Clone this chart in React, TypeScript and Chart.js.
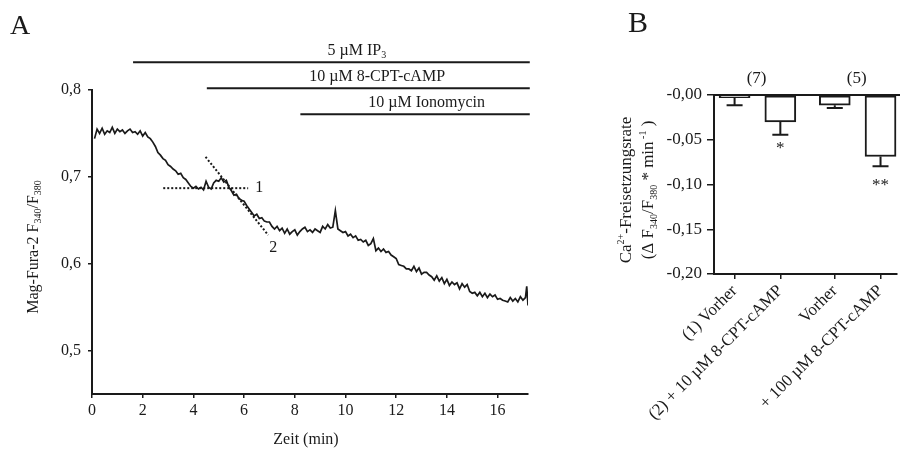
import React, { useEffect, useRef } from 'react';
import { Chart, registerables } from 'chart.js';
Chart.register(...registerables);

const FONT = '"Liberation Serif", "Times New Roman", serif';
const INK = '#1a1a1a';

// ---------- Panel A data ----------
const traceTime = [
  0.1,0.2,0.3,0.4,0.5,0.6,0.7,0.8,0.9,1.0,1.1,1.2,1.3,1.4,1.5,1.6,1.7,1.8,1.9,2.0,
  2.1,2.2,2.3,2.4,2.5,2.6,2.7,2.8,2.9,3.0,3.1,3.2,3.3,3.4,3.5,3.6,3.7,3.8,3.9,4.0,
  4.1,4.2,4.3,4.4,4.5,4.6,4.7,4.8,4.9,5.0,5.1,5.2,5.3,5.4,5.5,5.6,5.7,5.8,5.9,6.0,
  6.1,6.2,6.3,6.4,6.5,6.6,6.7,6.8,6.9,7.0,7.1,7.2,7.3,7.4,7.5,7.6,7.7,7.8,7.9,8.0,
  8.1,8.2,8.3,8.4,8.5,8.6,8.7,8.8,8.9,9.0,9.1,9.2,9.3,9.4,9.5,9.6,9.7,9.8,9.9,10.0,
  10.1,10.2,10.3,10.4,10.5,10.6,10.7,10.8,10.9,11.0,11.1,11.2,11.3,11.4,11.5,11.6,11.7,11.8,11.9,12.0,
  12.1,12.2,12.3,12.4,12.5,12.6,12.7,12.8,12.9,13.0,13.1,13.2,13.3,13.4,13.5,13.6,13.7,13.8,13.9,14.0,
  14.1,14.2,14.3,14.4,14.5,14.6,14.7,14.8,14.9,15.0,15.1,15.2,15.3,15.4,15.5,15.6,15.7,15.8,15.9,16.0,
  16.1,16.2,16.3,16.4,16.5,16.6,16.7,16.8,16.9,17.0,17.1,17.15,17.2
];
const traceRatio = [
  0.744,0.755,0.750,0.756,0.749,0.753,0.751,0.757,0.750,0.755,0.752,0.754,0.750,0.753,0.755,0.751,0.752,0.749,0.753,0.747,
  0.751,0.746,0.744,0.740,0.735,0.728,0.725,0.721,0.719,0.714,0.712,0.709,0.707,0.703,0.704,0.699,0.697,0.693,0.689,0.687,
  0.689,0.686,0.688,0.685,0.695,0.688,0.686,0.693,0.696,0.695,0.699,0.694,0.696,0.688,0.684,0.679,0.680,0.675,0.673,0.672,
  0.667,0.663,0.659,0.655,0.657,0.652,0.653,0.649,0.648,0.648,0.643,0.640,0.643,0.638,0.641,0.635,0.640,0.634,0.637,0.639,
  0.633,0.637,0.640,0.642,0.637,0.639,0.636,0.640,0.638,0.636,0.643,0.640,0.645,0.641,0.642,0.661,0.640,0.638,0.636,0.637,
  0.632,0.634,0.630,0.632,0.627,0.628,0.625,0.627,0.621,0.623,0.629,0.615,0.618,0.614,0.617,0.613,0.614,0.610,0.608,0.606,
  0.599,0.598,0.597,0.594,0.594,0.592,0.597,0.591,0.595,0.588,0.590,0.590,0.587,0.585,0.581,0.586,0.580,0.584,0.577,0.582,
  0.575,0.579,0.576,0.578,0.571,0.577,0.573,0.576,0.568,0.566,0.567,0.563,0.567,0.562,0.566,0.561,0.565,0.562,0.564,0.559,
  0.560,0.558,0.557,0.556,0.561,0.557,0.560,0.556,0.562,0.558,0.561,0.574,0.552
];
const xTicksA = [0, 2, 4, 6, 8, 10, 12, 14, 16];
const yTicksA = [0.5, 0.6, 0.7, 0.8];

const treatNames = ['5 µM IP|3', '10 µM 8-CPT-cAMP', '10 µM Ionomycin'];
const treatStart = [1.62, 4.53, 8.22];
const treatEnd = 17.27;
const treatLevel = [0.832, 0.802, 0.772];
const treatTextCenter = [10.45, 11.25, 13.2];

const fit1 = [{ x: 2.81, y: 0.687 }, { x: 6.16, y: 0.687 }];
const fit2 = [{ x: 4.48, y: 0.723 }, { x: 6.95, y: 0.633 }];

// ---------- Panel B data ----------
const barLabels = ['(1) Vorher', '(2) + 10 µM 8-CPT-cAMP', 'Vorher', '+ 100 µM 8-CPT-cAMP'];
const barPos = [0.45, 1.45, 2.64, 3.64];
const barMean = [-0.003, -0.030, -0.0115, -0.0687];
const barErr = [0.0085, 0.0145, 0.003, 0.011];
const barSig = ['', '*', '', '**'];
const groupN = ['(7)', '(5)'];
const groupPos = [0.93, 3.12];
const yTicksB = [0, -0.05, -0.1, -0.15, -0.2];

type Seg = [string, 'n' | 'sub' | 'sup'];

function drawRich(ctx: CanvasRenderingContext2D, segs: Seg[], x: number, y: number, size: number, rot = 0) {
  ctx.save();
  ctx.translate(x, y);
  ctx.rotate(rot);
  ctx.fillStyle = INK;
  ctx.textBaseline = 'alphabetic';
  ctx.textAlign = 'left';
  const small = Math.round(size * 0.6);
  let total = 0;
  const widths = segs.map(([t, k]) => {
    ctx.font = `${k === 'n' ? size : small}px ${FONT}`;
    const w = ctx.measureText(t).width;
    total += w;
    return w;
  });
  let cx = -total / 2;
  const base = size * 0.35;
  segs.forEach(([t, k], i) => {
    ctx.font = `${k === 'n' ? size : small}px ${FONT}`;
    const dy = k === 'sub' ? size * 0.22 : k === 'sup' ? -size * 0.42 : 0;
    ctx.fillText(t, cx, base + dy);
    cx += widths[i];
  });
  ctx.restore();
}

const annotA = {
  id: 'annotA',
  afterDraw(chart: any) {
    const ctx = chart.ctx as CanvasRenderingContext2D;
    const xs = chart.scales.x;
    const ys = chart.scales.y;
    ctx.save();
    ctx.fillStyle = INK;
    ctx.font = `28px ${FONT}`;
    ctx.textBaseline = 'alphabetic';
    ctx.fillText('A', 10, 34);
    treatNames.forEach((name, i) => {
      const parts = name.split('|');
      const segs: Seg[] = parts.length > 1 ? [[parts[0], 'n'], [parts[1], 'sub']] : [[name, 'n']];
      drawRich(ctx, segs, xs.getPixelForValue(treatTextCenter[i]), ys.getPixelForValue(treatLevel[i]) - 13, 16);
    });
    ctx.font = `16px ${FONT}`;
    ctx.textAlign = 'left';
    ctx.textBaseline = 'middle';
    ctx.fillText('1', xs.getPixelForValue(fit1[1].x) + 7, ys.getPixelForValue(fit1[1].y));
    ctx.fillText('2', xs.getPixelForValue(fit2[1].x) + 1, ys.getPixelForValue(fit2[1].y) + 13);
    ctx.textAlign = 'center';
    ctx.fillText('Zeit (min)', (chart.chartArea.left + chart.chartArea.right) / 2 - 4, 440);
    ctx.restore();
    drawRich(ctx, [['Mag-Fura-2 F', 'n'], ['340', 'sub'], ['/F', 'n'], ['380', 'sub']], 32, 247, 16, -Math.PI / 2);
  },
};

const annotB = {
  id: 'annotB',
  afterDatasetsDraw(chart: any) {
    const ctx = chart.ctx as CanvasRenderingContext2D;
    const xs = chart.scales.x;
    const ys = chart.scales.y;
    const ca = chart.chartArea;
    ctx.save();
    ctx.strokeStyle = INK;
    ctx.lineWidth = 2;
    const y0 = ys.getPixelForValue(0);
    ctx.beginPath();
    ctx.moveTo(ca.left, y0);
    ctx.lineTo(ca.right + 3, y0);
    ctx.stroke();
    barPos.forEach((p, i) => {
      const x = xs.getPixelForValue(p);
      const y1 = ys.getPixelForValue(barMean[i]);
      const y2 = ys.getPixelForValue(barMean[i] - barErr[i]);
      ctx.beginPath();
      ctx.moveTo(x, y1);
      ctx.lineTo(x, y2);
      ctx.moveTo(x - 8, y2);
      ctx.lineTo(x + 8, y2);
      ctx.stroke();
      if (barSig[i]) {
        ctx.fillStyle = INK;
        ctx.font = `17px ${FONT}`;
        ctx.textAlign = 'center';
        ctx.textBaseline = 'middle';
        ctx.fillText(barSig[i], x, y2 + (barSig[i].length > 1 ? 19 : 14));
      }
    });
    ctx.fillStyle = INK;
    ctx.font = `17px ${FONT}`;
    ctx.textAlign = 'center';
    ctx.textBaseline = 'middle';
    groupN.forEach((t, i) => ctx.fillText(t, xs.getPixelForValue(groupPos[i]), y0 - 16));
    ctx.font = `30px ${FONT}`;
    ctx.textAlign = 'left';
    ctx.textBaseline = 'alphabetic';
    ctx.fillText('B', 68, 32);
    ctx.restore();
    drawRich(ctx, [['Ca', 'n'], ['2+', 'sup'], ['-Freisetzungsrate', 'n']], 65, 190, 17, -Math.PI / 2);
    drawRich(ctx, [['(Δ F', 'n'], ['340', 'sub'], ['/F', 'n'], ['380', 'sub'], [' * min', 'n'], [' -1', 'sup'], [' )', 'n']], 87, 190, 17, -Math.PI / 2);
  },
};

export default function App() {
  const refA = useRef<HTMLCanvasElement>(null);
  const refB = useRef<HTMLCanvasElement>(null);

  useEffect(() => {
    const line = (data: any[], extra: any = {}) => ({
      data, borderColor: INK, borderWidth: 2, pointRadius: 0, tension: 0, fill: false, ...extra,
    });
    const chartA = new Chart(refA.current!, {
      type: 'line',
      data: {
        datasets: [
          line(traceTime.map((t, i) => ({ x: t, y: traceRatio[i] })), { borderWidth: 1.7 }),
          ...treatStart.map((s, i) =>
            line([{ x: s, y: treatLevel[i] }, { x: treatEnd, y: treatLevel[i] }], { clip: false })
          ),
          line(fit1, { borderDash: [2, 2], borderWidth: 2 }),
          line(fit2, { borderDash: [2, 2], borderWidth: 2 }),
        ],
      },
      options: {
        responsive: false,
        animation: false,
        layout: { padding: { top: 90, right: 32, left: 0, bottom: 0 } },
        plugins: { legend: { display: false }, tooltip: { enabled: false } },
        scales: {
          x: {
            type: 'linear', min: 0, max: 17.2,
            afterBuildTicks: (s: any) => { s.ticks = xTicksA.map((v) => ({ value: v })); },
            afterFit: (s: any) => { s.height = 58; },
            border: { color: INK, width: 2 },
            grid: { drawOnChartArea: false, color: INK, tickLength: 4, lineWidth: 1.5 },
            ticks: { color: INK, font: { family: FONT, size: 16 }, padding: 3, callback: (v: any) => String(v) },
          },
          y: {
            type: 'linear', min: 0.45, max: 0.8,
            afterBuildTicks: (s: any) => { s.ticks = yTicksA.map((v) => ({ value: v })); },
            afterFit: (s: any) => { s.width = 92; },
            border: { color: INK, width: 2 },
            grid: { drawOnChartArea: false, color: INK, tickLength: 4, lineWidth: 1.5 },
            ticks: { color: INK, font: { family: FONT, size: 16 }, padding: 7, callback: (v: any) => Number(v).toFixed(1).replace('.', ',') },
          },
        },
      },
      plugins: [annotA],
    } as any);

    const chartB = new Chart(refB.current!, {
      type: 'bar',
      data: {
        datasets: [{
          data: barPos.map((x, i) => ({ x, y: barMean[i] })),
          backgroundColor: '#ffffff', borderColor: INK, borderWidth: 2, borderSkipped: false, barThickness: 31,
        }],
      },
      options: {
        responsive: false,
        animation: false,
        layout: { padding: { top: 95, right: 9, left: 0, bottom: 0 } },
        plugins: { legend: { display: false }, tooltip: { enabled: false } },
        scales: {
          x: {
            type: 'linear', min: 0, max: 4, offset: false,
            afterBuildTicks: (s: any) => { s.ticks = barPos.map((v) => ({ value: v })); },
            afterFit: (s: any) => { s.height = 178; },
            border: { color: INK, width: 2 },
            grid: { drawOnChartArea: false, offset: false, color: INK, tickLength: 5, lineWidth: 1.5 },
            ticks: {
              color: INK, font: { family: FONT, size: 17 }, padding: 2, autoSkip: false,
              minRotation: 45, maxRotation: 45,
              callback: (_v: any, i: number) => barLabels[i],
            },
          },
          y: {
            type: 'linear', min: -0.2, max: 0,
            afterBuildTicks: (s: any) => { s.ticks = yTicksB.map((v) => ({ value: v })); },
            afterFit: (s: any) => { s.width = 154; },
            border: { color: INK, width: 2 },
            grid: { drawOnChartArea: false, color: INK, tickLength: 7, lineWidth: 1.5 },
            ticks: {
              color: INK, font: { family: FONT, size: 17 }, padding: 5,
              callback: (v: any) => '-' + Math.abs(Number(v)).toFixed(2).replace('.', ','),
            },
          },
        },
      },
      plugins: [annotB],
    } as any);

    return () => { chartA.destroy(); chartB.destroy(); };
  }, []);

  return (
    <div style={{ position: 'absolute', left: 0, top: 0, width: 906, height: 452, background: '#fff' }}>
      <canvas ref={refA} width={560} height={452} style={{ position: 'absolute', left: 0, top: 0, width: 560, height: 452 }} />
      <canvas ref={refB} width={346} height={452} style={{ position: 'absolute', left: 560, top: 0, width: 346, height: 452 }} />
    </div>
  );
}
